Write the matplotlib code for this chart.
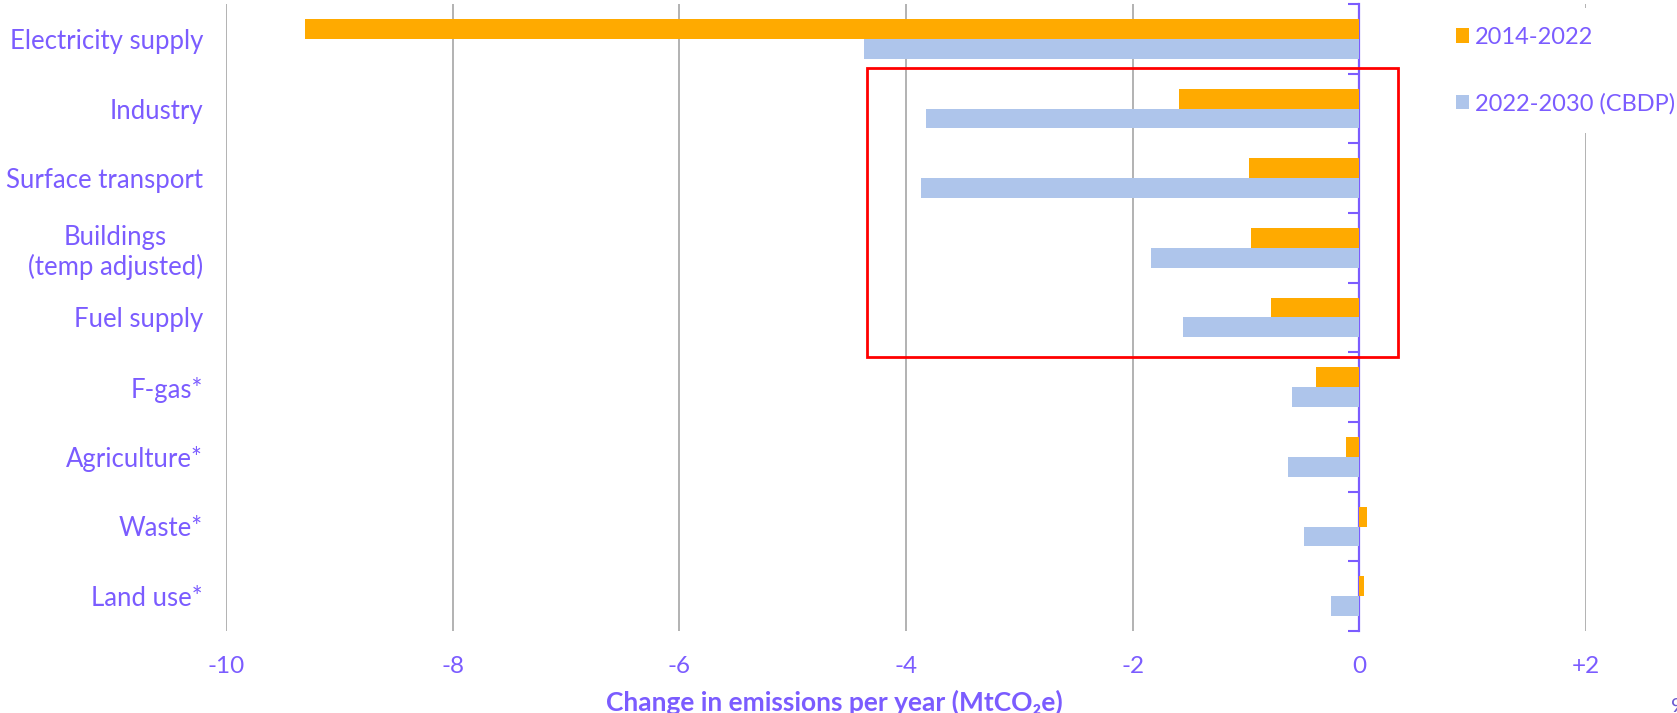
import matplotlib
matplotlib.use("Agg")
import matplotlib.pyplot as plt
from matplotlib.patches import Rectangle
import numpy as np

categories = ["Electricity supply", "Industry", "Surface transport",
              "Buildings\n(temp adjusted)", "Fuel supply", "F-gas*",
              "Agriculture*", "Waste*", "Land use*"]
series_2014_2022 = [-9.30, -1.59, -0.97, -0.96, -0.78, -0.38, -0.12, 0.07, 0.04]
series_2022_2030 = [-4.37, -3.82, -3.87, -1.84, -1.56, -0.59, -0.63, -0.49, -0.25]
series_names = ["2014-2022", "2022-2030 (CBDP)"]
xticks = [-10, -8, -6, -4, -2, 0, 2]
xtick_labels = ["-10", "-8", "-6", "-4", "-2", "0", "+2"]

PURPLE = "#7B5CFF"
ORANGE = "#FFAA00"
BLUE = "#AEC5EB"
FONT = ["Lato", "DejaVu Sans"]
plt.rcParams["font.family"] = FONT

W, H = 1677, 713
fig = plt.figure(figsize=(W / 100, H / 100), dpi=100)
ax = fig.add_axes([226 / W, 1 - 631 / H, 1360 / W, 627 / H])

y = np.arange(len(categories))
h = 0.283
ax.barh(y - h / 2, series_2014_2022, height=h, color=ORANGE, label=series_names[0], zorder=3)
ax.barh(y + h / 2, series_2022_2030, height=h, color=BLUE, label=series_names[1], zorder=3)

ax.set_xlim(-10, 2)
ax.set_ylim(len(categories) - 0.5, -0.5)

# vertical gridlines (except at zero, where the purple axis sits)
for xv in xticks:
    if xv != 0:
        ax.axvline(xv, color="#A6A6A6", lw=1.2, zorder=1)

for s in ax.spines.values():
    s.set_visible(False)

ax.set_xticks(xticks, labels=xtick_labels)
ax.tick_params(axis="x", length=0, pad=18, labelsize=17.5, labelcolor=PURPLE)
ax.set_yticks(y, labels=categories)
ax.tick_params(axis="y", length=0, pad=16.5, labelsize=18.5, labelcolor=PURPLE)
for lab in ax.get_yticklabels():
    lab.set_multialignment("center")
    lab.set_linespacing(1.2)

# purple category axis at x = 0 with boundary ticks pointing left
sec = ax.secondary_yaxis(10 / 12)
sec.set_alignment("left")
sec.spines["left"].set_color(PURPLE)
sec.spines["left"].set_linewidth(1.6)
sec.set_yticks(np.arange(len(categories) + 1) - 0.5)
sec.tick_params(axis="y", direction="out", length=8, width=1.5, color=PURPLE, labelleft=False, labelright=False)

ax.set_xlabel("Change in emissions per year (MtCO\u2082e)", fontsize=19,
              fontweight="bold", color=PURPLE)
ax.xaxis.set_label_coords((834 - 226) / 1360, -(702 - 631) / 627)
ax.xaxis.label.set_va("center")

# highlight box
ax.add_patch(Rectangle((-4.34, 0.42), 4.34 + 0.345, 4.57 - 0.42, fill=False,
                       edgecolor="#FF0000", lw=2.0, zorder=5, clip_on=False))

leg = fig.legend(loc="upper left", bbox_to_anchor=(1437 / W, 1 - 8 / H),
                 borderaxespad=0, frameon=True, fontsize=17,
                 handlelength=0.55, handleheight=0.55, handletextpad=0.25,
                 labelspacing=1.9, borderpad=0.8)
leg.get_frame().set_facecolor("white")
leg.get_frame().set_edgecolor("none")
leg.get_frame().set_alpha(1)
for t in leg.get_texts():
    t.set_color(PURPLE)

fig.text(1671 / W, 1 - 706 / H, "9", fontsize=14, color="#6E5BD0", ha="left", va="center")

fig.savefig("out.png", dpi=100)
